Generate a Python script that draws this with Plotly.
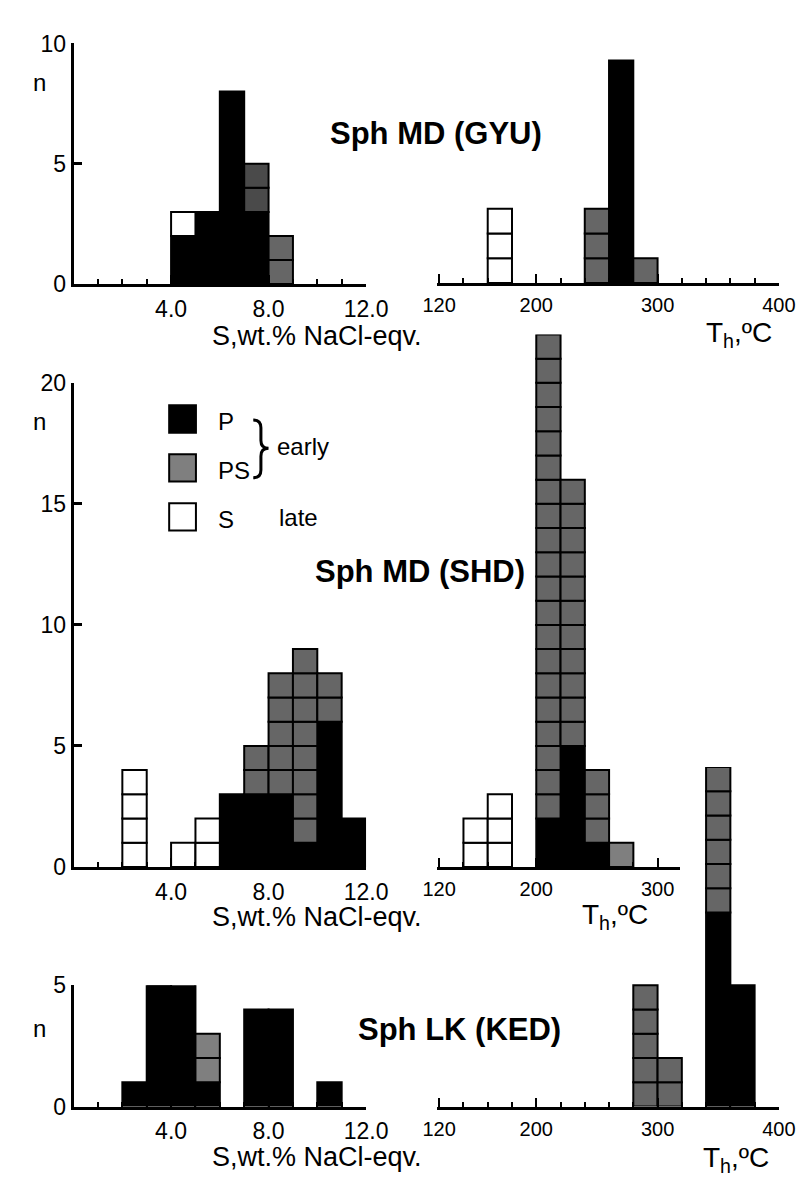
import plotly.graph_objects as go

W, H = 812, 1180
FONT = "Liberation Sans, Arial, Helvetica, sans-serif"

# ---------------- data ----------------
# Sph MD (GYU): salinity (wt.% NaCl-eqv.), bins of 1.0
gyu_sal_left = [4, 5, 6, 7, 8]
gyu_sal_P = [2, 3, 8, 3, 0]
gyu_sal_PS = [0, 0, 0, 2, 2]
gyu_sal_S = [1, 0, 0, 0, 0]
# Sph MD (GYU): Th (°C), bins of 20
gyu_th_left = [160, 240, 260, 280]
gyu_th_P = [0, 0, 9, 0]
gyu_th_PS = [0, 3, 0, 1]
gyu_th_S = [3, 0, 0, 0]

# Sph MD (SHD)
shd_sal_left = [2, 4, 5, 6, 7, 8, 9, 10, 11]
shd_sal_P = [0, 0, 0, 3, 3, 3, 1, 6, 2]
shd_sal_PS = [0, 0, 0, 0, 2, 5, 8, 2, 0]
shd_sal_S = [4, 1, 2, 0, 0, 0, 0, 0, 0]
shd_th_left = [140, 160, 200, 220, 240, 260]
shd_th_P = [0, 0, 2, 5, 1, 0]
shd_th_PS = [0, 0, 20, 11, 3, 1]
shd_th_S = [2, 3, 0, 0, 0, 0]

# Sph LK (KED)
ked_sal_left = [2, 3, 4, 5, 7, 8, 10]
ked_sal_P = [1, 5, 6, 1, 4, 4, 1]
ked_sal_PS = [0, 0, 0, 2, 0, 0, 0]
ked_sal_S = [0, 0, 0, 0, 0, 0, 0]
ked_th_left = [280, 300, 340, 360]
ked_th_P = [0, 0, 8, 5]
ked_th_PS = [5, 2, 6, 0]
ked_th_S = [0, 0, 0, 0]

SAL_BIN = 1.0
TH_BIN = 20

sal_tickvals = [4, 8, 12]
sal_ticktext = ["4.0", "8.0", "12.0"]
th_tickvals = [120, 200, 300, 400]
th_ticktext = ["120", "200", "300", "400"]

titles = ["Sph MD (GYU)", "Sph MD (SHD)", "Sph LK (KED)"]
sal_title = "S,wt.% NaCl-eqv."
th_title = "T<sub>h</sub>,ºC"
legend_labels = ["P", "PS", "S"]
group_labels = ["early", "late"]

# ---------------- style ----------------
C_P, C_PS, C_S = "#000000", "#666666", "#ffffff"
C_PS_DARK, C_PS_LIGHT = "#4a4a4a", "#7f7f7f"
# optional per-bin shade of the PS cells (style only), keyed by panel index
ps_shades = {
    1: [C_PS, C_PS, C_PS, C_PS_DARK, C_PS],
    4: [C_PS, C_PS, C_PS, C_PS, C_PS, C_PS_LIGHT],
    5: [C_PS, C_PS, C_PS, C_PS_LIGHT, C_PS, C_PS, C_PS],
}

fig = go.Figure()


def px_x(p):
    return p / W


def px_y(p):
    return 1 - p / H


def add_hist(idx, lefts, width, P, PS, S):
    xa = "x" if idx == 1 else f"x{idx}"
    ya = "y" if idx == 1 else f"y{idx}"
    common = dict(xaxis=xa, yaxis=ya, showlegend=False, hoverinfo="skip",
                  cliponaxis=False)
    cx = [l + width / 2 for l in lefts]
    xs = [c for c, p in zip(cx, P) if p > 0]
    ys = [p for p in P if p > 0]
    fig.add_trace(go.Bar(x=xs, y=ys, base=[0] * len(xs), width=width,
                         marker=dict(color=C_P, line=dict(color="black", width=2)),
                         **common))
    shades = ps_shades.get(idx, [C_PS] * len(lefts))
    below_s = [a + b for a, b in zip(P, PS)]
    for vals, below, cols in ((PS, P, shades), (S, below_s, [C_S] * len(lefts))):
        cxs, bases, cc = [], [], []
        for c, v, b, col in zip(cx, vals, below, cols):
            for k in range(v):
                cxs.append(c)
                bases.append(b + k)
                cc.append(col)
        if cxs:
            fig.add_trace(go.Bar(x=cxs, y=[1] * len(cxs), base=bases, width=width,
                                 marker=dict(color=cc, line=dict(color="black", width=2)),
                                 **common))


add_hist(1, gyu_sal_left, SAL_BIN, gyu_sal_P, gyu_sal_PS, gyu_sal_S)
add_hist(2, gyu_th_left, TH_BIN, gyu_th_P, gyu_th_PS, gyu_th_S)
add_hist(3, shd_sal_left, SAL_BIN, shd_sal_P, shd_sal_PS, shd_sal_S)
add_hist(4, shd_th_left, TH_BIN, shd_th_P, shd_th_PS, shd_th_S)
add_hist(5, ked_sal_left, SAL_BIN, ked_sal_P, ked_sal_PS, ked_sal_S)
add_hist(6, ked_th_left, TH_BIN, ked_th_P, ked_th_PS, ked_th_S)

# panel geometry in pixels: (x0, x1, ytop, ybottom, xrange, yrange, kind, ytickvals)
panels = [
    (54, 360, 23, 269, [0, 12], [0, 10], "sal", [0, 5, 10]),
    (434, 792, 15, 268, [118, 400], [0, 10], "th", None),
    (54, 360, 370, 865, [0, 12], [0, 20], "sal", [0, 5, 10, 15, 20]),
    (434, 689, 320.5, 865, [118, 318.8], [0, 22], "th", None),
    (54, 360, 986, 1110, [0, 12], [0, 5], "sal", [0, 5]),
    (434, 792, 762.8, 1110, [118, 400], [0, 14], "th", None),
]

lay = {}
for i, (x0, x1, yt, yb, xr, yr, kind, yt_vals) in enumerate(panels, start=1):
    sfx = "" if i == 1 else str(i)
    yanchor = "y" if i == 1 else f"y{i}"
    xanchor = "x" if i == 1 else f"x{i}"
    if kind == "sal":
        xax = dict(tickvals=sal_tickvals, ticktext=sal_ticktext,
                   tickfont=dict(size=23, color="black", family=FONT),
                   minor=dict(tickvals=[v for v in range(1, 12) if v not in sal_tickvals],
                              ticks="inside", ticklen=5, tickwidth=2, tickcolor="black"),
                   ticklen=9)
    else:
        xax = dict(tickvals=th_tickvals, ticktext=th_ticktext,
                   tickfont=dict(size=20, color="black", family=FONT),
                   minor=dict(tickvals=[v for v in range(140, 400, 20) if v not in th_tickvals],
                              ticks="inside", ticklen=5, tickwidth=2, tickcolor="black"),
                   ticklen=9)
    xax.update(domain=[px_x(x0), px_x(x1)], range=xr, anchor=yanchor,
               showline=True, linewidth=3, linecolor="black", ticks="inside",
               tickwidth=2, tickcolor="black", showgrid=False, zeroline=False,
               fixedrange=True, ticklabelstandoff=2)
    lay["xaxis" + sfx] = xax
    if yt_vals is not None:
        yax = dict(tickvals=yt_vals, ticks="inside", ticklen=8, tickwidth=3,
                   tickcolor="black", showline=True, linewidth=3, linecolor="black",
                   tickfont=dict(size=23, color="black", family=FONT))
    else:
        yax = dict(visible=False)
    yax.update(domain=[px_y(yb), px_y(yt)], range=yr, anchor=xanchor,
               showgrid=False, zeroline=False, fixedrange=True)
    lay["yaxis" + sfx] = yax

annotations = []


def ann(text, x, y, size, bold=False, xanchor="center"):
    annotations.append(dict(
        text=f"<b>{text}</b>" if bold else text, x=px_x(x), y=px_y(y),
        xref="paper", yref="paper", xanchor=xanchor, yanchor="middle",
        showarrow=False, font=dict(size=size, color="black", family=FONT)))


for ny in (63, 410, 1030):
    ann("n", 18, ny, 24)

ann(titles[0], 433, 115, 31, bold=True)
ann(titles[1], 416, 563, 31, bold=True)
ann(titles[2], 458, 1031, 31, bold=True)

for yy in (322, 916, 1162):
    ann(sal_title, 309, yy, 27)
ann(th_title, 750, 321, 28)
ann(th_title, 621, 916, 28)
ann(th_title, 747, 1164, 28)

# legend
leg_cols = [C_P, C_PS_LIGHT, C_S]
leg_tops = [393, 443, 493]
shapes = []
for lab, col, top in zip(legend_labels, leg_cols, leg_tops):
    shapes.append(dict(type="rect", xref="paper", yref="paper",
                       x0=px_x(154), x1=px_x(182), y0=px_y(top + 28), y1=px_y(top),
                       fillcolor=col, line=dict(color="black", width=2)))
    ann(lab, 203, top + 17, 24, xanchor="left")
ann(group_labels[0], 265, 435, 24, xanchor="left")
ann(group_labels[1], 267, 508, 24, xanchor="left")

# brace
pts = [(242, 408), (250, 408), (250, 416), (250, 429), (250, 437), (258, 437),
       (250, 437), (250, 445), (250, 459), (250, 467), (242, 467)]
P_ = [(px_x(a), px_y(b)) for a, b in pts]
path = (f"M {P_[0][0]},{P_[0][1]} Q {P_[1][0]},{P_[1][1]} {P_[2][0]},{P_[2][1]} "
        f"L {P_[3][0]},{P_[3][1]} Q {P_[4][0]},{P_[4][1]} {P_[5][0]},{P_[5][1]} "
        f"Q {P_[6][0]},{P_[6][1]} {P_[7][0]},{P_[7][1]} "
        f"L {P_[8][0]},{P_[8][1]} Q {P_[9][0]},{P_[9][1]} {P_[10][0]},{P_[10][1]}")
shapes.append(dict(type="path", xref="paper", yref="paper", path=path,
                   line=dict(color="black", width=3)))

fig.update_layout(width=W, height=H, margin=dict(l=0, r=0, t=0, b=0),
                  paper_bgcolor="white", plot_bgcolor="rgba(0,0,0,0)",
                  barmode="overlay", annotations=annotations, shapes=shapes,
                  font=dict(family=FONT, color="black"), **lay)

fig.write_html("out.html")
